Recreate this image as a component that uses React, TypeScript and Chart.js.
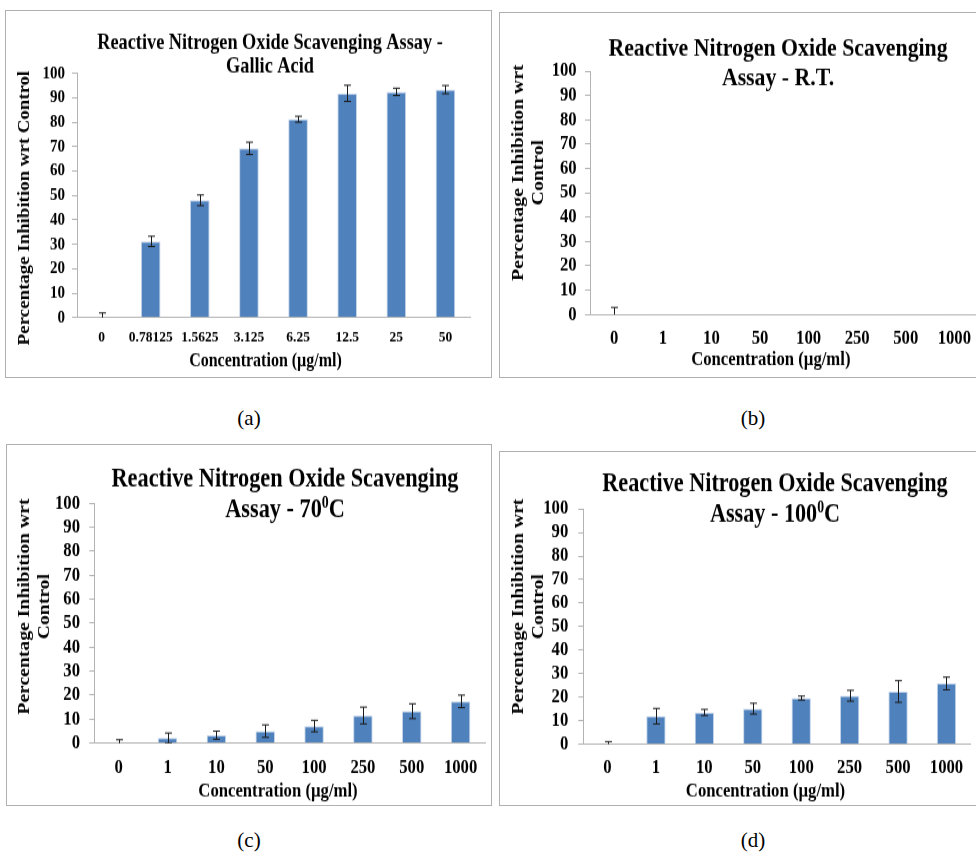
import React, { useEffect, useRef } from 'react';
import { Chart, registerables } from 'chart.js';

Chart.register(...registerables);

// ---------- data ----------
const gallicLabels = ['0', '0.78125', '1.5625', '3.125', '6.25', '12.5', '25', '50'];
const gallicValues = [0, 31.2, 48.0, 69.3, 81.2, 91.8, 92.4, 93.3];
const gallicErrors = [1.9, 2.1, 2.2, 2.5, 1.2, 3.3, 1.5, 1.7];

const extractLabels = ['0', '1', '10', '50', '100', '250', '500', '1000'];
const rtValues = [0, 0.3, 0.3, 0.3, 0.3, 0.3, 0.3, 0.3];
const rtErrors = [2.9, 0, 0, 0, 0, 0, 0, 0];
const t70Values = [0, 2.1, 3.3, 5.0, 7.1, 11.5, 13.3, 17.4];
const t70Errors = [1.4, 2.1, 1.7, 2.6, 2.4, 3.5, 3.1, 2.6];
const t100Values = [0, 11.9, 13.5, 15.1, 19.6, 20.6, 22.4, 25.8];
const t100Errors = [1.1, 3.3, 1.3, 2.3, 0.85, 2.3, 4.6, 2.7];

const yMin = 0;
const yMax = 100;
const yStep = 10;

const xAxisTitle = 'Concentration (µg/ml)';
const yAxisTitleOneLine = ['Percentage Inhibition wrt Control'];
const yAxisTitleTwoLines = ['Percentage Inhibition wrt', 'Control'];

// ---------- styling ----------
const SY = 1.18; // vertical stretch of the original figure
const FONT = "'Liberation Serif', 'Times New Roman', Times, serif";
const BAR = '#4F81BD';
const AXIS = '#b3b3b3';

type Seg = { t: string; sup?: boolean };
interface PanelSpec {
  id: string;
  caption: string;
  captionX: number;
  captionY: number;
  labels: string[];
  values: number[];
  errors: number[];
  box: [number, number, number, number];
  plot: [number, number, number, number];
  titleLines: Seg[][];
  titleSize: number;
  titleX: number;
  titleYs: number[];
  yTitle: string[];
  yTitleXs: number[];
  yTitleY: number;
  axisTitleSize: number;
  xTitleX: number;
  xTitleY: number;
  yTickSize: number;
  xTickSize: number;
  yTickRight: number;
  xTickY: number;
}

const panels: PanelSpec[] = [
  {
    id: 'a', caption: '(a)', captionX: 249, captionY: 418,
    labels: gallicLabels, values: gallicValues, errors: gallicErrors,
    box: [5, 10, 492, 378], plot: [77, 73.3, 470, 317.7],
    titleLines: [[{ t: 'Reactive Nitrogen Oxide Scavenging Assay -' }], [{ t: 'Gallic Acid' }]],
    titleSize: 18.3, titleX: 270, titleYs: [42, 65],
    yTitle: yAxisTitleOneLine, yTitleXs: [25], yTitleY: 208, axisTitleSize: 16,
    xTitleX: 265.5, xTitleY: 361.7,
    yTickSize: 15, xTickSize: 13.5, yTickRight: 65, xTickY: 337.7,
  },
  {
    id: 'b', caption: '(b)', captionX: 753, captionY: 418,
    labels: extractLabels, values: rtValues, errors: rtErrors,
    box: [499, 12, 1000, 378], plot: [590, 71, 978.6, 314.3],
    titleLines: [[{ t: 'Reactive Nitrogen Oxide Scavenging' }], [{ t: 'Assay - R.T.' }]],
    titleSize: 21.8, titleX: 778, titleYs: [47, 77],
    yTitle: yAxisTitleTwoLines, yTitleXs: [518.3, 538.3], yTitleY: 172.5, axisTitleSize: 16.7,
    xTitleX: 770.8, xTitleY: 359.3,
    yTickSize: 16.7, xTickSize: 16.7, yTickRight: 576.7, xTickY: 338.3,
  },
  {
    id: 'c', caption: '(c)', captionX: 249, captionY: 840,
    labels: extractLabels, values: t70Values, errors: t70Errors,
    box: [6, 444, 492, 806], plot: [94.3, 503.3, 485, 743.3],
    titleLines: [[{ t: 'Reactive Nitrogen Oxide Scavenging' }], [{ t: 'Assay - 70' }, { t: '0', sup: true }, { t: 'C' }]],
    titleSize: 22.3, titleX: 285, titleYs: [478, 508],
    yTitle: yAxisTitleTwoLines, yTitleXs: [25, 45], yTitleY: 606.7, axisTitleSize: 16.7,
    xTitleX: 278, xTitleY: 791.7,
    yTickSize: 16.7, xTickSize: 16.7, yTickRight: 80, xTickY: 767.7,
  },
  {
    id: 'd', caption: '(d)', captionX: 753, captionY: 840,
    labels: extractLabels, values: t100Values, errors: t100Errors,
    box: [499, 451, 1000, 806], plot: [583.3, 509, 970.7, 744.3],
    titleLines: [[{ t: 'Reactive Nitrogen Oxide Scavenging' }], [{ t: 'Assay - 100' }, { t: '0', sup: true }, { t: 'C' }]],
    titleSize: 22.2, titleX: 775, titleYs: [483, 513],
    yTitle: yAxisTitleTwoLines, yTitleXs: [518.3, 538.3], yTitleY: 606.7, axisTitleSize: 16.7,
    xTitleX: 765.5, xTitleY: 792,
    yTickSize: 16.7, xTickSize: 16.7, yTickRight: 568.3, xTickY: 768.3,
  },
];

function drawSegLine(ctx: CanvasRenderingContext2D, segs: Seg[], cx: number, cy: number, size: number) {
  const parts = segs.map((s) => {
    const fs = s.sup ? size * 0.62 : size;
    ctx.font = `bold ${fs}px ${FONT}`;
    return { ...s, fs, w: ctx.measureText(s.t).width };
  });
  const total = parts.reduce((a, p) => a + p.w, 0);
  let x = cx - total / 2;
  const base = cy + size * 0.33;
  ctx.textAlign = 'left';
  ctx.textBaseline = 'alphabetic';
  ctx.fillStyle = '#000';
  parts.forEach((p) => {
    ctx.font = `bold ${p.fs}px ${FONT}`;
    ctx.fillText(p.t, x, p.sup ? base - size * 0.36 : base);
    x += p.w;
  });
}

function makeOverlay(p: PanelSpec) {
  const [bl, bt] = p.box;
  const cy = (Y: number) => (Y - bt) / SY;
  const cx = (X: number) => X - bl;
  return {
    id: 'overlay_' + p.id,
    afterDatasetsDraw(chart: any) {
      const ctx: CanvasRenderingContext2D = chart.ctx;
      const meta = chart.getDatasetMeta(0);
      const ys = chart.scales.y;
      const area = chart.chartArea;
      ctx.save();
      ctx.beginPath();
      ctx.rect(area.left, area.top - 10, area.right - area.left, area.bottom - area.top + 10);
      ctx.clip();
      ctx.strokeStyle = '#1a1a1a';
      ctx.lineWidth = 1;
      p.values.forEach((v, i) => {
        const e = p.errors[i];
        if (!e) return;
        const el = meta.data[i];
        const x = Math.round(el.x) + 0.5;
        const yT = ys.getPixelForValue(v + e);
        const yB = ys.getPixelForValue(v - e);
        ctx.beginPath();
        ctx.moveTo(x, yT);
        ctx.lineTo(x, yB);
        ctx.moveTo(x - 3.5, yT);
        ctx.lineTo(x + 3.5, yT);
        ctx.moveTo(x - 3.5, yB);
        ctx.lineTo(x + 3.5, yB);
        ctx.stroke();
      });
      ctx.restore();
    },
    afterDraw(chart: any) {
      const ctx: CanvasRenderingContext2D = chart.ctx;
      ctx.save();
      p.titleLines.forEach((line, i) => drawSegLine(ctx, line, cx(p.titleX), cy(p.titleYs[i]), p.titleSize));
      ctx.font = `bold ${p.axisTitleSize}px ${FONT}`;
      ctx.fillStyle = '#000';
      ctx.textAlign = 'center';
      ctx.textBaseline = 'middle';
      ctx.fillText(xAxisTitle, cx(p.xTitleX), cy(p.xTitleY));
      p.yTitle.forEach((t, i) => {
        ctx.save();
        ctx.translate(cx(p.yTitleXs[i]), cy(p.yTitleY));
        ctx.rotate(-Math.PI / 2);
        ctx.textAlign = 'center';
        ctx.textBaseline = 'middle';
        ctx.fillText(t, 0, 0);
        ctx.restore();
      });
      ctx.restore();
    },
  };
}

function Panel({ p }: { p: PanelSpec }) {
  const ref = useRef<HTMLCanvasElement | null>(null);
  const [bl, bt, br, bb] = p.box;
  const [pl, pt, pr, pb] = p.plot;
  const W = br - bl;
  const H = bb - bt;
  const CH = Math.round(H / SY);

  useEffect(() => {
    if (!ref.current) return;
    const plotBottomC = (pb - bt) / SY;
    const xH = CH - plotBottomC;
    const xPad = (p.xTickY - pb) / SY - 0.6 * p.xTickSize;
    const yPad = pl - p.yTickRight - 5;
    const chart = new Chart(ref.current, {
      type: 'bar',
      data: {
        labels: p.labels,
        datasets: [
          {
            data: p.values,
            backgroundColor: BAR,
            borderColor: '#c5d5ea',
            borderWidth: 1,
            barPercentage: 0.4,
            categoryPercentage: 1,
          },
        ],
      },
      options: {
        responsive: false,
        maintainAspectRatio: false,
        animation: false,
        devicePixelRatio: 1,
        layout: { padding: { left: 0, right: br - pr, top: (pt - bt) / SY, bottom: 0 } },
        plugins: { legend: { display: false }, title: { display: false }, tooltip: { enabled: false } },
        scales: {
          x: {
            grid: { display: false, drawTicks: false },
            border: { display: true, color: AXIS, width: 1 },
            ticks: {
              color: '#000',
              font: { family: FONT, size: p.xTickSize, weight: 'bold' },
              padding: xPad,
              maxRotation: 0,
              minRotation: 0,
              autoSkip: false,
            },
            afterFit: (s: any) => { s.height = xH; },
          },
          y: {
            min: yMin,
            max: yMax,
            ticks: {
              stepSize: yStep,
              autoSkip: false,
              color: '#000',
              font: { family: FONT, size: p.yTickSize, weight: 'bold' },
              padding: yPad,
            },
            grid: { drawOnChartArea: false, drawTicks: true, tickLength: 5, color: AXIS },
            border: { display: true, color: AXIS, width: 1 },
            afterFit: (s: any) => { s.width = pl - bl; },
          },
        },
      } as any,
      plugins: [makeOverlay(p)],
    });
    return () => chart.destroy();
  }, []);

  return (
    <>
      <div
        style={{
          position: 'absolute', left: bl, top: bt, width: W, height: H,
          border: '1px solid #b0b0b0', boxSizing: 'border-box', background: '#fff',
        }}
      />
      <canvas
        ref={ref}
        width={W}
        height={CH}
        style={{ position: 'absolute', left: bl, top: bt, width: W + 'px', height: H + 'px' }}
      />
      <div
        style={{
          position: 'absolute', left: p.captionX, top: p.captionY, transform: 'translate(-50%, -50%)',
          fontFamily: FONT, fontSize: 21, lineHeight: 1, color: '#000', whiteSpace: 'nowrap',
        }}
      >
        {p.caption}
      </div>
    </>
  );
}

export default function App() {
  return (
    <div
      style={{
        position: 'absolute', left: 0, top: 0, width: 976, height: 853,
        overflow: 'hidden', background: '#fff',
      }}
    >
      {panels.map((p) => (
        <Panel key={p.id} p={p} />
      ))}
    </div>
  );
}
